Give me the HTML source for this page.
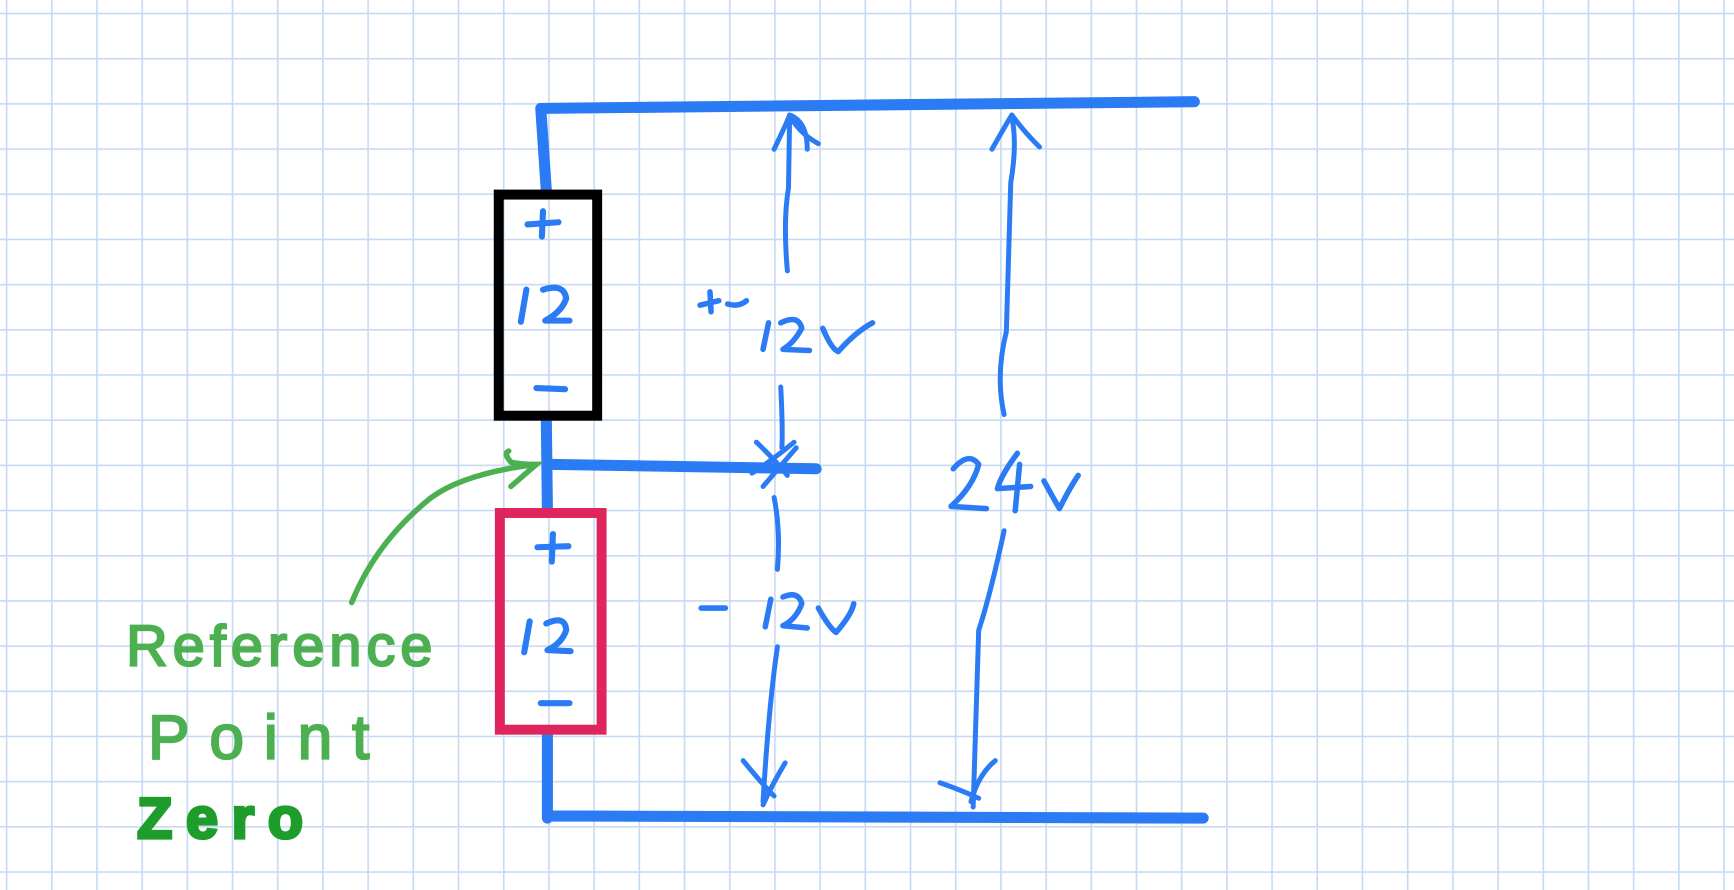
<!DOCTYPE html>
<html><head><meta charset="utf-8"><style>
html,body{margin:0;padding:0;background:#fff;}
svg{display:block;}
text{font-family:"Liberation Sans",sans-serif;}
</style></head><body>
<svg width="1734" height="890" viewBox="0 0 1568 805" preserveAspectRatio="none" xmlns="http://www.w3.org/2000/svg">
<defs>
<pattern id="g" x="5.2" y="11.5" width="40.87" height="40.87" patternUnits="userSpaceOnUse">
<path d="M0 0H40.87M0 0V40.87" stroke="#c6daf3" stroke-width="3" fill="none"/>
</pattern>
</defs>
<rect width="1568" height="805" fill="#fff"/>
<rect width="1568" height="805" fill="url(#g)"/>
<g stroke="#2a7bf4" stroke-linecap="round" stroke-linejoin="round" fill="none">
<path d="M491 98 L1080 92" stroke-width="10"/>
<path d="M489 98 L494 172" stroke-width="10"/>
<path d="M494 378 L495 462" stroke-width="10"/>
<path d="M497 420 L738 424" stroke-width="10"/>
<path d="M495 664 L495 740 M495 738 L1088 740" stroke-width="10"/>
<path d="M477 203 L505 201 M491 191 L490 214" stroke-width="5.5"/>
<path d="M476 262 L471 291 M491 262 Q510 256 512 270 Q508 282 493 290 L515 290" stroke-width="5.5"/>
<path d="M485 351 L511 352" stroke-width="5.5"/>
<path d="M486 495 L514 494 M500 483 L499 508" stroke-width="5.5"/>
<path d="M479 562 L474 590 M494 564 Q511 556 512 570 Q508 582 495 588 L516 589" stroke-width="5.5"/>
<path d="M489 636 L515 636" stroke-width="5.5"/>
<g stroke-width="4.5">
<path d="M712 245 Q708 200 713 170 L714 108 M700 135 Q712 110 714 104 Q722 120 740 130 M714 104 Q730 110 730 135"/>
<path d="M706 350 Q708 390 707 405 M684 400 Q700 415 712 430 M680 428 Q700 415 718 400 M690 440 L720 405"/>
<path d="M700 450 Q706 480 703 515"/>
<path d="M703 585 Q695 640 690 725 M672 688 Q690 710 700 720 M710 690 Q698 710 690 728"/>
<path d="M908 375 Q900 340 910 300 L914 165 Q920 130 915 106 M897 135 Q910 112 915 104 Q925 118 940 133"/>
<path d="M908 480 Q895 540 885 570 L880 730 M850 708 Q870 715 885 722 M900 688 Q885 700 878 725"/>
</g>
<path d="M633 276 L650 272 M642 264 L643 282 M658 275 Q668 278 675 272" stroke-width="5"/>
<path d="M695 292 L690 316 M706 292 Q722 284 725 297 Q718 310 708 316 L732 317 M744 297 Q752 316 758 318 Q774 300 789 292" stroke-width="5"/>
<path d="M634 550 L656 550 M697 542 L692 567 M708 540 Q722 534 725 546 Q720 560 708 566 L730 568 M740 550 Q750 568 756 572 Q770 556 772 546" stroke-width="5"/>
<path d="M862 424 Q876 408 885 420 Q880 440 860 458 L892 460 M920 410 Q905 430 902 442 L932 440 M922 420 L918 462 M944 435 Q955 455 958 460 Q968 440 975 430" stroke-width="5"/>
</g>
<rect x="451" y="176" width="89" height="200" fill="none" stroke="#000" stroke-width="9"/>
<rect x="452" y="464" width="92" height="196" fill="none" stroke="#e0245e" stroke-width="9"/>
<g stroke="#4caf50" stroke-width="5" fill="none" stroke-linecap="round">
<path d="M318 545 Q340 490 390 450 Q420 428 485 420"/>
<path d="M460 408 Q455 410 462 418 Q470 420 485 420 L462 440"/>
</g>
<text x="114" y="602" font-size="52" fill="#4caf50" stroke="#4caf50" stroke-width="2" letter-spacing="3" textLength="280">Reference</text>
<text x="134" y="686" font-size="56" fill="#4caf50" stroke="#4caf50" stroke-width="2" textLength="200">Point</text>
<text x="124" y="758" font-size="52" fill="#1e9d2c" stroke="#1e9d2c" stroke-width="3" font-weight="bold" textLength="150">Zero</text>
</svg>
</body></html>
